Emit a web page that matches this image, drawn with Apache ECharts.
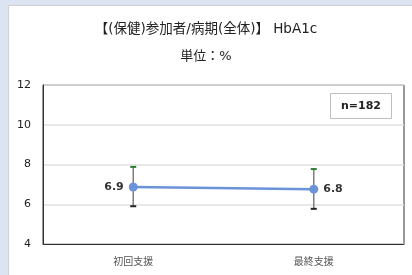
<!DOCTYPE html>
<html>
<head>
<meta charset="utf-8">
<script src="https://cdn.jsdelivr.net/npm/echarts@6/dist/echarts.min.js"></script>
<style>
  html, body { margin: 0; padding: 0; background: #dce4f2; }
  #chart { width: 412px; height: 275px; }
</style>
</head>
<body>
<div id="chart"></div>
<script>
// 軸・データ
const categories = ['初回支援', '最終支援']
const means = [6.87, 6.76]
const upper = [7.88, 7.77]
const lower = [5.9, 5.77]
const meanLabels = ['6.9', '6.8']
const yTicks = [4, 6, 8, 10, 12]
const sampleLabel = 'n=182'

const FONT = '"DejaVu Sans", "Noto Sans CJK JP", sans-serif'

const chart = echarts.init(document.getElementById('chart'), null, { renderer: 'canvas' })

// 誤差棒（custom series）
function renderErrorBar(params, api) {
  const i = api.value(0)
  const top = api.coord([i, api.value(1)])
  const bot = api.coord([i, api.value(2)])
  const half = 3
  return {
    type: 'group',
    children: [
      { type: 'line', shape: { x1: top[0], y1: top[1], x2: bot[0], y2: bot[1] },
        style: { stroke: '#7f7f7f', lineWidth: 1.5 } },
      { type: 'line', shape: { x1: top[0] - half, y1: top[1], x2: top[0] + half, y2: top[1] },
        style: { stroke: '#2e7d32', lineWidth: 2 } },
      { type: 'line', shape: { x1: bot[0] - half, y1: bot[1], x2: bot[0] + half, y2: bot[1] },
        style: { stroke: '#222', lineWidth: 2 } },
    ],
  }
}

chart.setOption({
  backgroundColor: '#dce4f2',
  animation: false,
  graphic: [
    { type: 'rect', left: 8, top: 5, z: -10,
      shape: { width: 410, height: 275 },
      style: { fill: '#ffffff', stroke: '#d0d0d0', lineWidth: 1 } },
    { type: 'group', left: 330, top: 93, z: 10, children: [
      { type: 'rect', shape: { width: 61, height: 25 },
        style: { fill: '#fff', stroke: '#bfbfbf', lineWidth: 1 } },
      { type: 'text', style: { x: 30.5, y: 12.5, text: sampleLabel, align: 'center', verticalAlign: 'middle',
        font: 'bold 11px ' + FONT, fill: '#222' } },
    ] },
  ],
  title: {
    text: '【(保健)参加者/病期(全体)】 HbA1c',
    subtext: '単位：%',
    left: 'center',
    top: 18,
    itemGap: 14,
    textStyle: { fontFamily: FONT, fontSize: 13.5, fontWeight: 'normal', color: '#222' },
    subtextStyle: { fontFamily: FONT, fontSize: 13, color: '#222' },
  },
  grid: { left: 43, right: 8, top: 85, bottom: 31, show: true, borderColor: '#333', borderWidth: 1 },
  xAxis: {
    type: 'category',
    data: categories,
    boundaryGap: true,
    axisLine: { lineStyle: { color: '#333' } },
    axisTick: { show: false },
    axisLabel: { color: '#555', fontFamily: FONT, fontSize: 10, margin: 13 },
  },
  yAxis: {
    type: 'value',
    min: yTicks[0],
    max: yTicks[yTicks.length - 1],
    interval: 2,
    axisLine: { show: true, lineStyle: { color: '#333' } },
    axisTick: { show: false },
    axisLabel: { color: '#222', fontFamily: FONT, fontSize: 11, margin: 12 },
    splitLine: { lineStyle: { color: '#e0e0e0', width: 1.5 } },
  },
  series: [
    {
      type: 'custom',
      renderItem: renderErrorBar,
      data: categories.map((c, i) => [i, upper[i], lower[i]]),
      z: 1,
    },
    {
      type: 'line',
      data: means.map((v, i) => ({ value: v, label: { position: i === 0 ? 'left' : 'right' } })),
      symbol: 'circle',
      symbolSize: 9,
      z: 3,
      lineStyle: { color: '#6a93d8', width: 2.5 },
      itemStyle: { color: '#6a93d8' },
      label: {
        show: true,
        formatter: (p) => meanLabels[p.dataIndex],
        fontFamily: FONT,
        fontWeight: 'bold',
        fontSize: 11,
        color: '#333',
        distance: 5,
      },
    },
  ],
})
</script>
</body>
</html>
